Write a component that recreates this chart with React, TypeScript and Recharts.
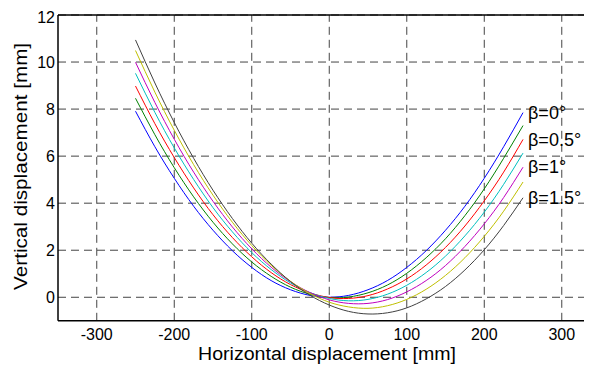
import React from 'react';
import { LineChart, Line, XAxis, YAxis, CartesianGrid, ReferenceLine, ReferenceDot, Label } from 'recharts';

const xValues = [-250, -225, -200, -175, -150, -125, -100, -75, -50, -25, 0, 25, 50, 75, 100, 125, 150, 175, 200, 225, 250];

const beta0 = [7.91, 6.40, 5.06, 3.87, 2.85, 1.98, 1.27, 0.71, 0.32, 0.08, 0.00, 0.08, 0.32, 0.71, 1.27, 1.98, 2.85, 3.87, 5.06, 6.40, 7.85];
const beta025 = [8.46, 6.91, 5.51, 4.27, 3.19, 2.27, 1.50, 0.89, 0.43, 0.13, -0.01, 0.01, 0.19, 0.52, 1.02, 1.68, 2.49, 3.47, 4.61, 5.91, 7.30];
const beta05 = [8.98, 7.38, 5.94, 4.65, 3.51, 2.54, 1.72, 1.05, 0.54, 0.19, -0.01, -0.05, 0.07, 0.35, 0.78, 1.37, 2.12, 3.03, 4.10, 5.32, 6.71];
const beta075 = [9.52, 7.86, 6.35, 5.01, 3.81, 2.78, 1.90, 1.18, 0.61, 0.20, -0.05, -0.15, -0.09, 0.13, 0.51, 1.05, 1.75, 2.61, 3.62, 4.80, 6.13];
const beta1 = [9.99, 8.28, 6.72, 5.32, 4.08, 2.99, 2.06, 1.28, 0.66, 0.20, -0.11, -0.26, -0.26, -0.10, 0.23, 0.71, 1.35, 2.16, 3.12, 4.24, 5.53];
const beta125 = [10.49, 8.72, 7.10, 5.64, 4.34, 3.19, 2.20, 1.36, 0.68, 0.16, -0.21, -0.41, -0.47, -0.36, -0.09, 0.34, 0.93, 1.68, 2.59, 3.66, 4.90];
const beta15 = [10.94, 9.11, 7.43, 5.91, 4.55, 3.35, 2.30, 1.41, 0.67, 0.09, -0.33, -0.60, -0.71, -0.66, -0.45, -0.07, 0.46, 1.16, 2.02, 3.05, 4.23];

const seriesKeys = ['b0', 'b025', 'b05', 'b075', 'b1', 'b125', 'b15'];
const seriesValues = [beta0, beta025, beta05, beta075, beta1, beta125, beta15];
const seriesColors = ['#0000ff', '#008000', '#ff0000', '#00bfbf', '#bf00bf', '#bfbf00', '#404040'];

const annotationLabels = ['β=0°', 'β=0.5°', 'β=1°', 'β=1.5°'];
const annotationSeries = [0, 2, 4, 6];

const xTicks = [-300, -200, -100, 0, 100, 200, 300];
const yTicks = [0, 2, 4, 6, 8, 10, 12];

const xTitle = 'Horizontal displacement [mm]';
const yTitle = 'Vertical displacement [mm]';

const data = xValues.map((x, i) => {
  const row: Record<string, number> = { x };
  seriesKeys.forEach((k, s) => {
    row[k] = seriesValues[s][i];
  });
  return row;
});

const FONT = '"Liberation Sans", Arial, Helvetica, sans-serif';

const XTitle = (props: any) => {
  const vb = props.viewBox || {};
  const cx = vb.x + vb.width / 2 + 2;
  const by = vb.y + vb.height + 0.7;
  return (
    <text x={cx} y={by} textAnchor="middle" fill="#000" fontSize={18} fontFamily={FONT} textLength={258} lengthAdjust="spacingAndGlyphs">
      {xTitle}
    </text>
  );
};

const YTitle = (props: any) => {
  const vb = props.viewBox || {};
  const x = vb.x + 12.3;
  const y = vb.y + vb.height / 2 - 1.5;
  return (
    <text
      x={x}
      y={y}
      dy="0.355em"
      textAnchor="middle"
      transform={`rotate(-90, ${x}, ${y})`}
      fill="#000"
      fontSize={18}
      fontFamily={FONT}
      textLength={247}
      lengthAdjust="spacingAndGlyphs"
    >
      {yTitle}
    </text>
  );
};

export default function App() {
  const lastIdx = xValues.length - 1;
  return (
    <div style={{ width: 584, height: 357 }}>
      <LineChart width={584} height={357} data={data} margin={{ top: 7, right: 0, bottom: 6.2, left: 0 }}>
        <CartesianGrid stroke="#444" strokeDasharray="8 5" strokeWidth={1} vertical={false} syncWithTicks />
        {xTicks.map((t) => (
          <ReferenceLine key={'vx' + t} x={t} stroke="#444" strokeDasharray="8 5" strokeWidth={1} />
        ))}
        <XAxis
          type="number"
          dataKey="x"
          domain={[-350, 339]}
          ticks={xTicks}
          allowDataOverflow
          tickLine={false}
          tickSize={0}
          tickMargin={8}
          height={38}
          axisLine={{ stroke: '#000', strokeWidth: 1.5 }}
          tick={{ fill: '#000', fontSize: 16, fontFamily: FONT }}
        >
          <Label content={XTitle} />
        </XAxis>
        <YAxis
          type="number"
          domain={[-1, 12]}
          ticks={yTicks}
          allowDataOverflow
          tickLine={false}
          tickSize={0}
          tickMargin={3}
          width={50}
          axisLine={{ stroke: '#000', strokeWidth: 1.5 }}
          tick={{ fill: '#000', fontSize: 16, fontFamily: FONT }}
        >
          <Label content={YTitle} />
        </YAxis>
        <ReferenceLine y={12} stroke="#000" strokeWidth={1.5} />
        {seriesKeys.map((k, s) => (
          <Line
            key={k}
            dataKey={k}
            type="natural"
            stroke={seriesColors[s]}
            strokeWidth={1}
            dot={false}
            activeDot={false}
            isAnimationActive={false}
          />
        ))}
        {annotationLabels.map((label, j) => (
          <ReferenceDot
            key={label}
            x={xValues[lastIdx]}
            y={seriesValues[annotationSeries[j]][lastIdx]}
            r={0}
            shape={(p: any) => (
              <text x={p.cx + 5} y={p.cy} dy="0.35em" fill="#000" fontSize={18} fontFamily={FONT}>
                {label}
              </text>
            )}
          />
        ))}
      </LineChart>
    </div>
  );
}
